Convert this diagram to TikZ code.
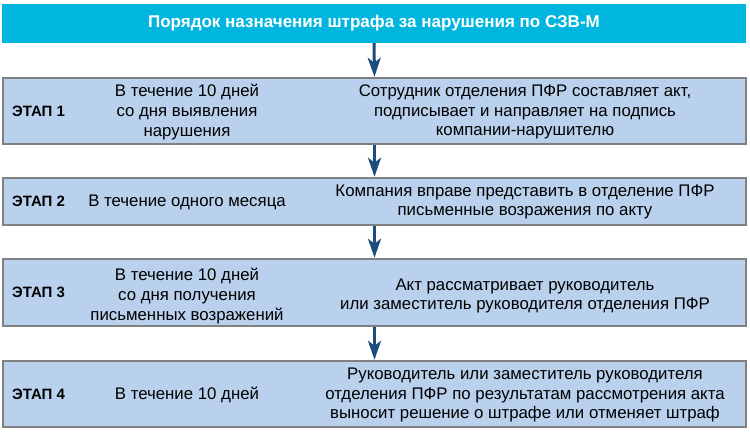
\documentclass[tikz,border=0pt]{standalone}
\usepackage{fontspec}
\setmainfont{Liberation Sans}
\usetikzlibrary{arrows.meta}
\definecolor{titlecyan}{HTML}{00B6DE}
\definecolor{boxfill}{HTML}{B9D1ED}
\definecolor{boxline}{HTML}{808080}
\definecolor{arrowblue}{HTML}{1B4C7C}
\tikzset{
  stagebox/.style={draw=boxline, line width=1.5pt, fill=boxfill, minimum width=743pt, inner sep=0pt},
  titlebox/.style={fill=titlecyan, minimum width=744pt, minimum height=39pt, inner sep=0pt,
    text=white, font=\fontsize{17}{20}\selectfont\bfseries},
  stagelabel/.style={anchor=west, inner sep=0pt, font=\fontsize{15}{19}\selectfont\bfseries},
  stagetext/.style={align=center, inner sep=0pt, font=\fontsize{16.8}{19.6}\selectfont},
  flowarrow/.style={draw=arrowblue, line width=3pt, -{Stealth[length=19pt, width=13pt, inset=5pt]}, shorten >=0.5pt}
}
\begin{document}
\begin{tikzpicture}[x=1pt, y=-1pt]
\useasboundingbox (0,0) rectangle (750,432);
\node[titlebox] (title) at (374,23.5) {Порядок назначения штрафа за нарушения по СЗВ-М};
\node[stagebox, minimum height=66pt] (s1) at (374.5,111) {};
\node[stagebox, minimum height=47pt] (s2) at (374.5,201.5) {};
\node[stagebox, minimum height=67pt] (s3) at (374.5,292.5) {};
\node[stagebox, minimum height=66pt] (s4) at (374.5,394) {};
\node[stagelabel] (l1) at (12,111) {ЭТАП 1};
\node[stagelabel] (l2) at (12,201.5) {ЭТАП 2};
\node[stagelabel] (l3) at (12,292.5) {ЭТАП 3};
\node[stagelabel] (l4) at (12,394) {ЭТАП 4};
\node[stagetext] (t1) at (187,112) {В течение 10 дней\\со дня выявления\\нарушения};
\node[stagetext] (r1) at (525,112) {Сотрудник отделения ПФР составляет акт,\\подписывает и направляет на подпись\\компании-нарушителю};
\node[stagetext] (t2) at (187,202) {В течение одного месяца};
\node[stagetext] (r2) at (525,202) {Компания вправе представить в отделение ПФР\\письменные возражения по акту};
\node[stagetext] (t3) at (187,296) {В течение 10 дней\\со дня получения\\письменных возражений};
\node[stagetext] (r3) at (525,296) {Акт рассматривает руководитель\\или заместитель руководителя отделения ПФР};
\node[stagetext] (t4) at (187,395) {В течение 10 дней};
\node[stagetext] (r4) at (525,395) {Руководитель или заместитель руководителя\\отделения ПФР по результатам рассмотрения акта\\выносит решение о штрафе или отменяет штраф};
\draw[flowarrow] (title.south) -- (s1.north);
\draw[flowarrow] (s1.south) -- (s2.north);
\draw[flowarrow] (s2.south) -- (s3.north);
\draw[flowarrow] (s3.south) -- (s4.north);
\end{tikzpicture}
\end{document}
